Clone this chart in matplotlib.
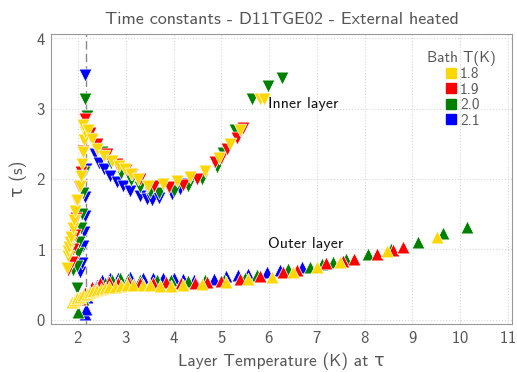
import matplotlib
matplotlib.use("Agg")
import matplotlib.pyplot as plt
from matplotlib.lines import Line2D

# bath temperatures and colours
bath_temps = ["1.8", "1.9", "2.0", "2.1"]
colors = {"1.8": "#FFD700", "1.9": "#FF0000", "2.0": "#008000", "2.1": "#0000FF"}

# inner layer (down triangles): layer temperature, tau
inner_T = {
    "1.8": [1.77, 1.79, 1.80, 1.81, 1.83, 1.85, 1.89, 1.92, 1.94, 1.98, 2.04, 2.06, 2.08, 2.10,
            2.13, 2.15, 2.10, 2.22, 2.29, 2.40, 2.55, 2.71, 2.85, 2.98, 3.12, 3.26, 3.46, 3.78,
            4.07, 4.34, 4.66, 4.95, 5.18, 5.40, 5.81, 5.90],
    "1.9": [1.80, 1.87, 1.90, 1.93, 1.96, 1.98, 2.02, 2.06, 2.10, 2.15, 2.25, 2.40, 2.60, 2.82,
            3.00, 3.13, 3.30, 3.60, 3.90, 4.20, 4.50, 4.87, 5.00, 5.12, 5.33, 5.45],
    "2.0": [1.98, 1.90, 1.97, 2.00, 2.03, 2.06, 2.08, 2.10, 2.12, 2.15, 2.19, 2.30, 2.50, 2.70,
            2.90, 3.10, 3.30, 3.50, 3.70, 4.00, 4.30, 4.60, 4.90, 5.03, 5.28, 5.64, 5.97, 6.27],
    "2.1": [2.05, 2.08, 2.10, 2.12, 2.14, 2.15, 2.17, 2.15, 2.19, 2.35, 2.45, 2.54, 2.67, 2.82,
            2.94, 3.09, 3.30, 3.44, 3.55, 3.70, 3.97, 4.13, 4.30],
}
inner_tau = {
    "1.8": [0.73, 0.90, 0.97, 1.04, 1.11, 1.18, 1.30, 1.41, 1.55, 1.70, 1.90, 2.04, 2.21, 2.38,
            2.55, 2.66, 2.77, 2.70, 2.56, 2.42, 2.33, 2.25, 2.19, 2.14, 2.07, 2.00, 1.90, 1.93,
            1.97, 2.03, 2.11, 2.30, 2.49, 2.70, 3.13, 3.14],
    "1.9": [0.70, 0.82, 1.00, 1.20, 1.45, 1.68, 1.90, 2.10, 2.40, 2.85, 2.65, 2.50, 2.35, 2.21,
            2.12, 2.07, 2.00, 1.90, 1.88, 1.92, 2.00, 2.24, 2.30, 2.42, 2.58, 2.73],
    "2.0": [0.45, 0.70, 0.77, 0.95, 1.10, 1.30, 1.50, 1.80, 2.10, 3.13, 2.90, 2.55, 2.38, 2.22,
            2.08, 1.98, 1.88, 1.82, 1.80, 1.83, 1.90, 2.00, 2.17, 2.37, 2.70, 3.13, 3.32, 3.44],
    "2.1": [0.68, 0.80, 1.05, 1.25, 1.48, 1.75, 2.14, 3.48, 2.90, 2.35, 2.22, 2.14, 2.04, 1.96,
            1.90, 1.83, 1.76, 1.72, 1.70, 1.73, 1.79, 1.86, 1.93],
}

# outer layer (up triangles)
outer_T = {
    "1.8": [1.87, 1.93, 1.98, 2.04, 2.10, 2.18, 2.25, 2.32, 2.40, 2.48, 2.56, 2.66, 2.77, 2.90,
            3.02, 3.15, 3.36, 3.50, 3.72, 3.95, 4.20, 4.60, 5.10, 5.56, 6.06, 6.50, 7.00, 7.48,
            8.46, 9.51],
    "1.9": [2.05, 2.15, 2.30, 2.46, 2.65, 2.84, 3.05, 3.30, 3.57, 3.85, 4.15, 4.45, 4.70, 5.00,
            5.40, 5.80, 6.30, 6.58, 7.20, 7.55, 7.77, 8.26, 8.60, 8.80],
    "2.0": [2.00, 2.10, 2.25, 2.40, 2.56, 2.72, 2.88, 3.05, 3.30, 3.65, 3.95, 4.30, 4.65,
            5.05, 5.50, 5.75, 6.40, 6.85, 7.10, 7.33, 7.60, 8.07, 8.55, 9.11, 9.64, 10.14],
    "2.1": [2.15, 2.17, 2.20, 2.30, 2.40, 2.50, 2.67, 2.84, 3.09, 3.36, 3.57, 3.78, 4.00, 4.20,
            4.42, 4.85, 5.10, 5.35, 5.55, 5.95, 6.23, 6.69],
}
outer_tau = {
    "1.8": [0.25, 0.28, 0.31, 0.33, 0.35, 0.37, 0.39, 0.41, 0.42, 0.44, 0.45, 0.46, 0.46, 0.48,
            0.49, 0.49, 0.49, 0.49, 0.48, 0.48, 0.49, 0.51, 0.54, 0.58, 0.61, 0.68, 0.75, 0.82,
            0.97, 1.17],
    "1.9": [0.30, 0.38, 0.46, 0.52, 0.54, 0.52, 0.53, 0.52, 0.52, 0.53, 0.52, 0.52, 0.53, 0.55,
            0.58, 0.62, 0.68, 0.70, 0.80, 0.84, 0.87, 0.94, 0.99, 1.04],
    "2.0": [0.11, 0.30, 0.40, 0.47, 0.52, 0.56, 0.59, 0.58, 0.57, 0.56, 0.56, 0.55, 0.56,
            0.56, 0.59, 0.63, 0.72, 0.75, 0.79, 0.82, 0.86, 0.94, 1.00, 1.11, 1.23, 1.32],
    "2.1": [0.08, 0.15, 0.32, 0.42, 0.50, 0.56, 0.59, 0.59, 0.61, 0.60, 0.60, 0.59, 0.59, 0.58,
            0.57, 0.58, 0.62, 0.64, 0.65, 0.68, 0.70, 0.75],
}

lambda_T = 2.17

plt.rcParams['font.family'] = ['cmss10', 'DejaVu Sans']
plt.rcParams['axes.formatter.use_mathtext'] = True
grey = "#555555"

fig = plt.figure(figsize=(5.17, 3.72), dpi=100)
ax = fig.add_axes([0.099, 0.129, 0.891, 0.78])

ax.axvline(lambda_T, color="#888888", linestyle=(0, (6, 3)), linewidth=1.0, zorder=1)

# yellow ends up on top
for bt in reversed(bath_temps):
    ax.scatter(inner_T[bt], inner_tau[bt], marker="v", s=85, color=colors[bt],
               edgecolors="white", linewidths=0.5, zorder=3)
    ax.scatter(outer_T[bt], outer_tau[bt], marker="^", s=85, color=colors[bt],
               edgecolors="white", linewidths=0.5, zorder=3)

ax.text(5.97, 3.06, "Inner layer", fontsize=11.5, va="center", ha="left", color="#111111")
ax.text(5.97, 1.08, "Outer layer", fontsize=11.5, va="center", ha="left", color="#111111")

ax.set_xlim(1.44, 11.08)
ax.set_ylim(-0.06, 4.06)
ax.set_xticks(range(2, 12))
ax.set_yticks(range(0, 5))
ax.tick_params(length=0, labelsize=12, labelcolor=grey, pad=4)
ax.grid(True, linestyle=":", color="#d8d8d8", linewidth=0.8)
ax.set_axisbelow(True)
for sp in ax.spines.values():
    sp.set_color("#999999")
    sp.set_linewidth(0.8)

ax.set_xlabel("Layer Temperature (K) at τ", fontsize=12.5, color=grey, labelpad=5)
ax.set_ylabel("τ (s)", fontsize=12.5, color=grey, labelpad=6)
ax.set_title("Time constants - D11TGE02 - External heated", fontsize=13, color=grey, pad=7)

handles = [Line2D([], [], marker="s", linestyle="none", markersize=7, color=colors[bt])
           for bt in bath_temps]
leg = ax.legend(handles, bath_temps, title="Bath T(K)", loc="upper right",
                frameon=False, fontsize=11, title_fontsize=11, handletextpad=0.1,
                labelspacing=0.1, handlelength=1.0, bbox_to_anchor=(0.995, 0.99))
for t in leg.get_texts():
    t.set_color(grey)
leg.get_title().set_color(grey)

fig.savefig("out.png", dpi=100)
